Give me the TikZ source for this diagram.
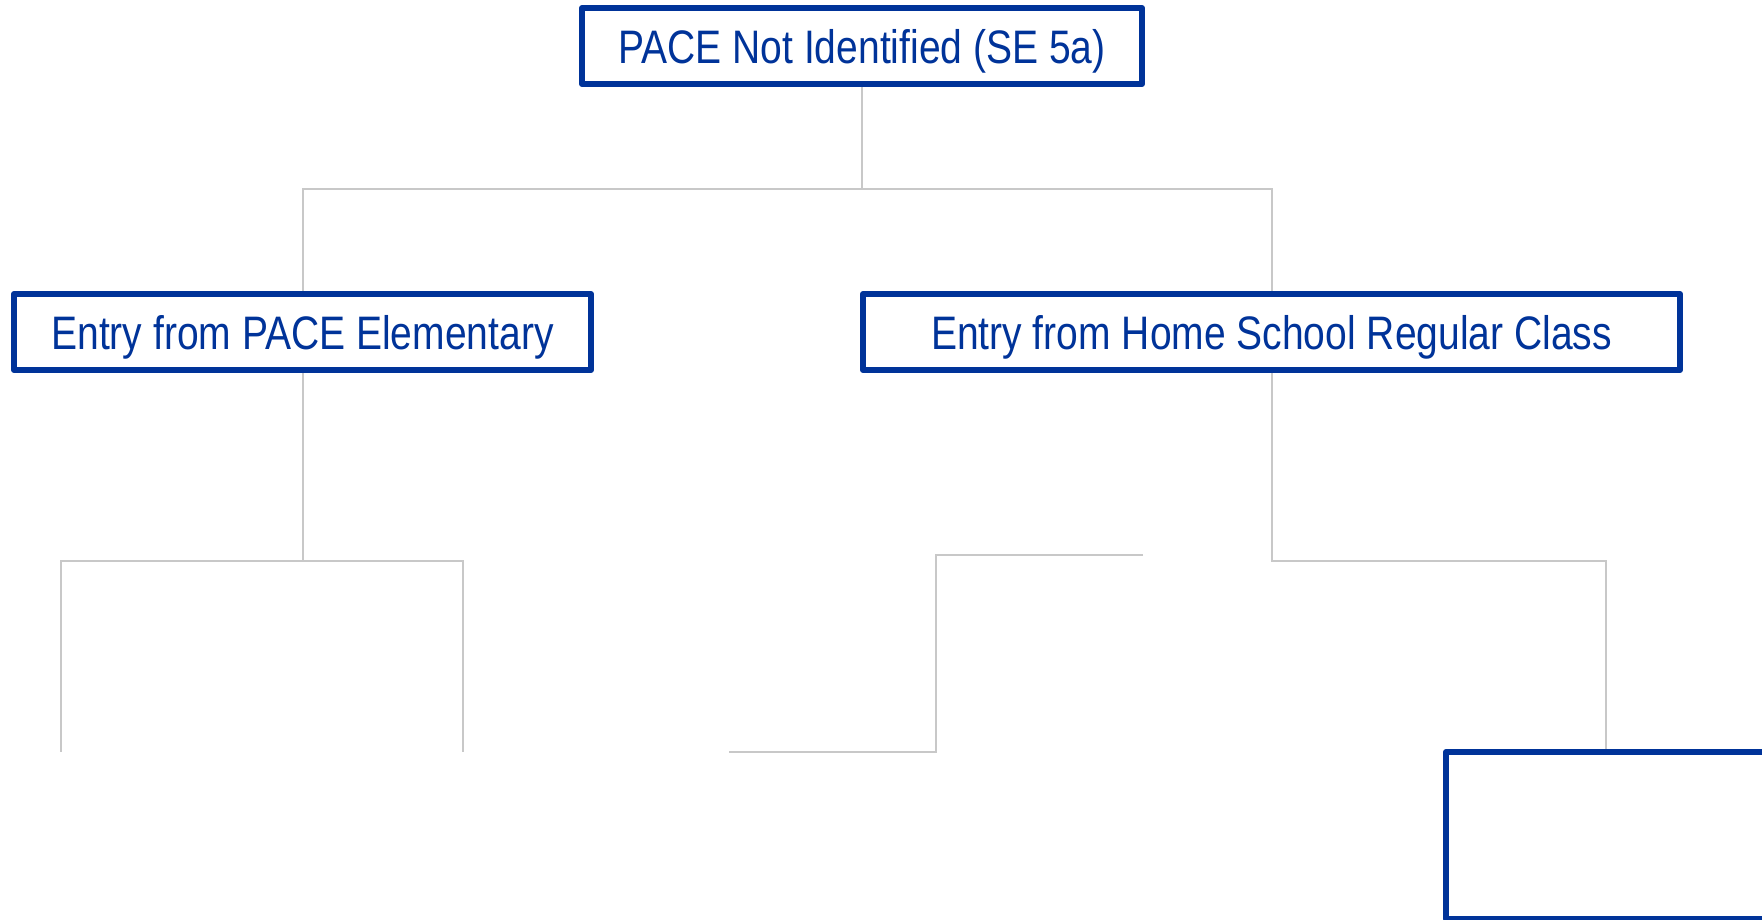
\documentclass[tikz,border=0pt]{standalone}
\usepackage{fontspec}
\setmainfont{Liberation Sans}
\newfontfamily\narrowfont[FakeStretch=0.83]{Liberation Sans}
\usepackage{tikz}
\usetikzlibrary{positioning}
\usepackage{xcolor}
\definecolor{paceblue}{RGB}{0,51,153}
\definecolor{linkgrey}{RGB}{200,200,200}
\tikzstyle{entrybox} = [rectangle, minimum height=76pt, inner sep=0pt, text centered, draw=paceblue, line width=6pt, line join=round, text=paceblue, font=\narrowfont\fontsize{47}{56}\selectfont, text height=34pt, text depth=0pt]
\tikzstyle{link} = [line width=2pt, color=linkgrey]

\begin{document}
\begin{tikzpicture}[x=1pt, y=-1pt]
\useasboundingbox (0,0) rectangle (1762,919);

% Top node
\node[entrybox, minimum width=560pt] (notid) at (862,46) {PACE Not Identified (SE 5a)};

% Entry nodes
\node[entrybox, minimum width=577pt] (elem) at (302.5,332) {Entry from PACE Elementary};
\node[entrybox, minimum width=817pt] (home) at (1271.5,332) {Entry from Home School Regular Class};

% Lower node (cut at the edge)
\node[entrybox, minimum width=320pt, minimum height=167pt] (lower) at (1606,835.5) {};

% Split points and free ends
\coordinate (topsplit) at (862,189);
\coordinate (elemsplit) at (302.5,561);
\coordinate (homesplit) at (1271.5,561);
\coordinate (elemleft) at (61,752);
\coordinate (elemright) at (463,752);
\coordinate (stubtop) at (1143,555);
\coordinate (stubbottom) at (729,752);

% Connectors
\draw[link] (notid.south) -- (topsplit) -| (elem.north);
\draw[link] (topsplit) -| (home.north);
\draw[link] (elem.south) -- (elemsplit) -| (elemleft);
\draw[link] (elemsplit) -| (elemright);
\draw[link] (home.south) -- (homesplit) -| (lower.north);
\draw[link] (stubtop) -- (936,555) -- (936,752) -- (stubbottom);
\end{tikzpicture}
\end{document}
